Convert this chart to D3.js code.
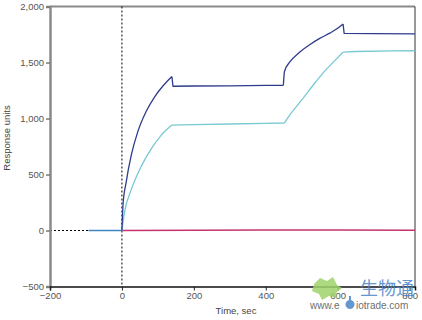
<!DOCTYPE html>
<html>
<head>
<meta charset="utf-8">
<script src="https://cdn.jsdelivr.net/npm/d3@7/dist/d3.min.js"></script>
<style>
  html, body { margin: 0; padding: 0; background: #fff; }
  svg { display: block; font-family: "Liberation Sans", Arial, sans-serif; }
</style>
</head>
<body>
<svg id="chart" width="422" height="320"></svg>
<script>
// tick values
const xTicks = [-200, 0, 200, 400, 600, 800]
const yTicks = [-500, 0, 500, 1000, 1500, 2000]

// sensorgram traces: [time sec, response units], split by injection phase
const baseline = [[-93, 0], [0, 0]]
const darkAssoc1 = [
  [0, 0], [3, 230], [12, 435], [26, 673], [44, 881], [67, 1060], [91, 1194],
  [114, 1290], [139, 1375]
]
const darkDissoc1 = [[139, 1375], [142, 1288], [200, 1290], [300, 1292], [400, 1295], [449, 1297]]
const darkAssoc2 = [
  [449, 1297], [452, 1420], [467, 1505], [490, 1580], [522, 1658], [550, 1715],
  [578, 1762], [600, 1805], [615, 1843]
]
const darkDissoc2 = [[615, 1843], [618, 1760], [700, 1758], [815, 1756]]

const lightAssoc1 = [
  [0, 0], [7, 160], [26, 365], [54, 575], [81, 727], [109, 850], [139, 941]
]
const lightDissoc1 = [[139, 941], [200, 946], [300, 951], [400, 957], [452, 960]]
const lightAssoc2 = [
  [452, 960], [470, 1045], [504, 1182], [530, 1290], [559, 1405], [590, 1510],
  [615, 1593]
]
const lightDissoc2 = [[615, 1593], [650, 1598], [750, 1603], [815, 1605]]

const refTrace = [[0, 0], [200, 2], [400, 5], [600, 5], [815, 3]]

const svg = d3.select('#chart')
const x = d3.scaleLinear().domain([-200, 815]).range([50, 415])
const y = d3.scaleLinear().domain([-500, 2000]).range([286.5, 6.5])

// frame: gray top, thin right
svg.append('line')
  .attr('x1', 50).attr('x2', 415).attr('y1', y(2000)).attr('y2', y(2000))
  .attr('stroke', '#8a8a8a').attr('stroke-width', 2)
svg.append('line')
  .attr('x1', 415).attr('x2', 415).attr('y1', y(2000)).attr('y2', y(-500))
  .attr('stroke', '#333').attr('stroke-width', 1)

// dotted reference lines
svg.append('line')
  .attr('x1', x(0)).attr('x2', x(0)).attr('y1', y(2000)).attr('y2', y(-500))
  .attr('stroke', '#000').attr('stroke-width', 1).attr('stroke-dasharray', '2,2')
svg.append('line')
  .attr('x1', x(-200)).attr('x2', x(0)).attr('y1', y(0)).attr('y2', y(0))
  .attr('stroke', '#000').attr('stroke-width', 1).attr('stroke-dasharray', '2,2')

// axes
const yAxis = svg.append('g')
  .attr('transform', `translate(${x(-200)},0)`)
  .call(d3.axisLeft(y).tickValues(yTicks).tickSize(4).tickFormat(d3.format(',')))
yAxis.select('.domain').attr('stroke', '#8a8a8a').attr('stroke-width', 2.5)
yAxis.selectAll('.tick line').attr('stroke', '#777').attr('stroke-width', 1.5)
yAxis.selectAll('.tick text').attr('fill', '#555').attr('font-size', 9.5)
  .attr('x', -6).text(d => d < 0 ? '\u2212' + d3.format(',')(-d) : d3.format(',')(d))

const xAxis = svg.append('g')
  .attr('transform', `translate(0,${y(-500)})`)
  .call(d3.axisBottom(x).tickValues(xTicks).tickSize(4).tickFormat(d => d < 0 ? '\u2212' + (-d) : d))
xAxis.select('.domain').attr('stroke', '#111').attr('stroke-width', 1.5)
xAxis.selectAll('.tick line').attr('stroke', '#222')
xAxis.selectAll('.tick text').attr('fill', '#555').attr('font-size', 9.5).attr('y', 6)

// traces: smooth curve during injections, straight between
const smooth = d3.line().x(d => x(d[0])).y(d => y(d[1])).curve(d3.curveMonotoneX)
const straight = d3.line().x(d => x(d[0])).y(d => y(d[1]))
function trace (phases) {
  return phases.map((p, i) => (i % 2 === 0 ? smooth : straight)(p)).join('')
}

svg.append('path').attr('d', straight(baseline))
  .attr('fill', 'none').attr('stroke', '#3f86c4').attr('stroke-width', 1.5)
svg.append('path').attr('d', straight(refTrace))
  .attr('fill', 'none').attr('stroke', '#c4336a').attr('stroke-width', 1.5)
svg.append('path').attr('d', trace([lightAssoc1, lightDissoc1, lightAssoc2, lightDissoc2]))
  .attr('fill', 'none').attr('stroke', '#78c9d2').attr('stroke-width', 1.3)
  .attr('stroke-linejoin', 'round')
svg.append('path').attr('d', trace([darkAssoc1, darkDissoc1, darkAssoc2, darkDissoc2]))
  .attr('fill', 'none').attr('stroke', '#2e3c8c').attr('stroke-width', 1.3)
  .attr('stroke-linejoin', 'round')

// axis titles
svg.append('text')
  .attr('x', 236).attr('y', 314).attr('text-anchor', 'middle')
  .attr('font-size', 9.5).attr('fill', '#444').text('Time, sec')
svg.append('text')
  .attr('transform', 'translate(10,138) rotate(-90)').attr('text-anchor', 'middle')
  .attr('font-size', 9.5).attr('fill', '#444').text('Response units')

// watermark
const wm = svg.append('g').attr('opacity', 0.85)
wm.append('path')
  .attr('d', 'M314,284 L320,278 L327,281 L333,277 L337,285 L342,288 L336,293 L337,298 L329,296 L322,300 L319,294 L312,291 Z')
  .attr('fill', '#9fd36a')
wm.append('path')
  .attr('d', 'M349,296 L351,296 L351,300 A4.5,4.5 0 1 1 349,300 Z')
  .attr('fill', '#4a86c8')
wm.append('text')
  .attr('x', 360).attr('y', 295).attr('font-size', 18)
  .attr('font-family', '"Noto Sans CJK SC", sans-serif').attr('fill', '#4a86c8')
  .text('生物通')
wm.append('text')
  .attr('x', 310).attr('y', 308.5).attr('font-size', 10).attr('fill', '#555')
  .text('www.e')
wm.append('text')
  .attr('x', 356).attr('y', 308.5).attr('font-size', 10).attr('fill', '#555')
  .text('iotrade.com')
</script>
</body>
</html>
